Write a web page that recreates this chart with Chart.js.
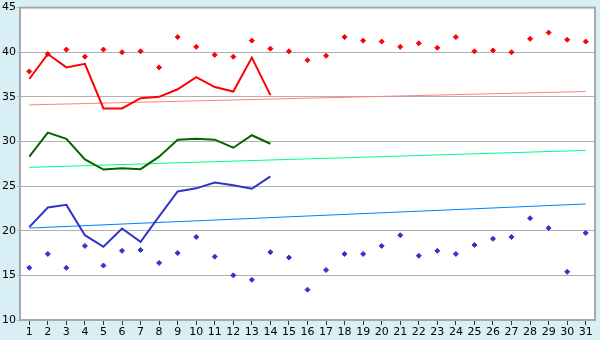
<!DOCTYPE html>
<html>
<head>
<meta charset="utf-8">
<script src="https://cdn.jsdelivr.net/npm/chart.js@4"></script>
<style>
  html, body { margin: 0; padding: 0; background: #d9eff6; }
  #wrap { width: 600px; height: 340px; }
</style>
</head>
<body>
<div id="wrap"><canvas id="myChart" width="600" height="340"></canvas></div>
<script>
const days = [];
for (let i = 1; i <= 31; ++i) {
  days.push('' + i);
}

// daily highs / lows (points)
const highs = [37.85, 39.8, 40.3, 39.5, 40.3, 40.0, 40.1, 38.3, 41.7, 40.6, 39.7, 39.5, 41.3, 40.4, 40.1,
  39.1, 39.6, 41.7, 41.3, 41.2, 40.6, 41.0, 40.5, 41.7, 40.1, 40.2, 40.0, 41.5, 42.2, 41.4, 41.2];
const lows = [15.85, 17.4, 15.85, 18.3, 16.1, 17.75, 17.85, 16.4, 17.5, 19.3, 17.1, 15.0, 14.5, 17.6, 17.0,
  13.4, 15.6, 17.4, 17.4, 18.3, 19.5, 17.2, 17.75, 17.4, 18.4, 19.1, 19.3, 21.4, 20.3, 15.4, 19.75];

// lines, first 14 days
const maxLine = [37.0, 39.8, 38.3, 38.7, 33.7, 33.7, 34.85, 35.0, 35.85, 37.2, 36.1, 35.6, 39.4, 35.2];
const meanLine = [28.3, 31.0, 30.3, 28.0, 26.85, 27.0, 26.9, 28.3, 30.2, 30.3, 30.2, 29.3, 30.7, 29.75];
const minLine = [20.4, 22.6, 22.9, 19.5, 18.2, 20.25, 18.75, 21.6, 24.4, 24.75, 25.4, 25.1, 24.7, 26.1];

// trend lines: value at day 1 and day 31
const maxTrend = [34.1, 35.6];
const meanTrend = [27.1, 29.0];
const minTrend = [20.3, 23.0];

function trend(vals) {
  return [{ x: days[0], y: vals[0] }, { x: days[days.length - 1], y: vals[1] }];
}

const frame = {
  id: 'frame',
  beforeDraw(chart) {
    const { ctx, chartArea: a } = chart;
    ctx.save();
    ctx.fillStyle = '#d9eff6';
    ctx.fillRect(0, 0, chart.width, chart.height);
    ctx.fillStyle = '#ffffff';
    ctx.fillRect(a.left, a.top, a.right - a.left, a.bottom - a.top);
    ctx.restore();
  },
  afterDraw(chart) {
    const { ctx, chartArea: a } = chart;
    ctx.save();
    ctx.strokeStyle = '#a8a8a8';
    ctx.lineWidth = 2;
    ctx.strokeRect(a.left, a.top, a.right - a.left, a.bottom - a.top);
    ctx.restore();
  }
};

const lineBase = { pointRadius: 0, borderWidth: 2, fill: false, tension: 0 };
const dotBase = { showLine: false, pointStyle: 'rectRot', pointRadius: 2.5, pointBorderWidth: 1 };

const config = {
  type: 'line',
  data: {
    labels: days,
    datasets: [
      Object.assign({ data: maxLine, borderColor: '#ff0000', order: 1 }, lineBase),
      Object.assign({ data: meanLine, borderColor: '#006600', order: 2 }, lineBase),
      Object.assign({ data: minLine, borderColor: '#3333cc', order: 3 }, lineBase),
      Object.assign({ data: highs, backgroundColor: '#ff0000', borderColor: '#ff0000', order: 0 }, dotBase),
      Object.assign({ data: lows, backgroundColor: '#3333cc', borderColor: '#3333cc', order: 0 }, dotBase),
      { data: trend(maxTrend), borderColor: '#ff8080', borderWidth: 1, pointRadius: 0, order: 5 },
      { data: trend(meanTrend), borderColor: '#00ff80', borderWidth: 1, pointRadius: 0, order: 5 },
      { data: trend(minTrend), borderColor: '#0080ff', borderWidth: 1, pointRadius: 0, order: 5 }
    ]
  },
  options: {
    responsive: false,
    animation: false,
    layout: { padding: { top: 5, right: 5, left: 0, bottom: 0 } },
    plugins: { legend: { display: false }, tooltip: { enabled: false } },
    scales: {
      x: {
        offset: true,
        grid: { drawOnChartArea: false, tickLength: 5, color: '#333333', offset: false },
        border: { color: '#a8a8a8', width: 2 },
        ticks: { color: '#000', font: { family: 'DejaVu Sans', size: 11 }, padding: 1, maxRotation: 0, autoSkip: false },
        afterFit: (s) => { s.height = 20; }
      },
      y: {
        min: 10,
        max: 45,
        ticks: { stepSize: 5, color: '#000', font: { family: 'DejaVu Sans', size: 11 }, padding: 1 },
        grid: { color: '#b0b0b0', tickLength: 3 },
        border: { color: '#a8a8a8', width: 2 },
        afterFit: (s) => { s.width = 20; }
      }
    }
  },
  plugins: [frame]
};

const myChart = new Chart(document.getElementById('myChart'), config);
</script>
</body>
</html>
